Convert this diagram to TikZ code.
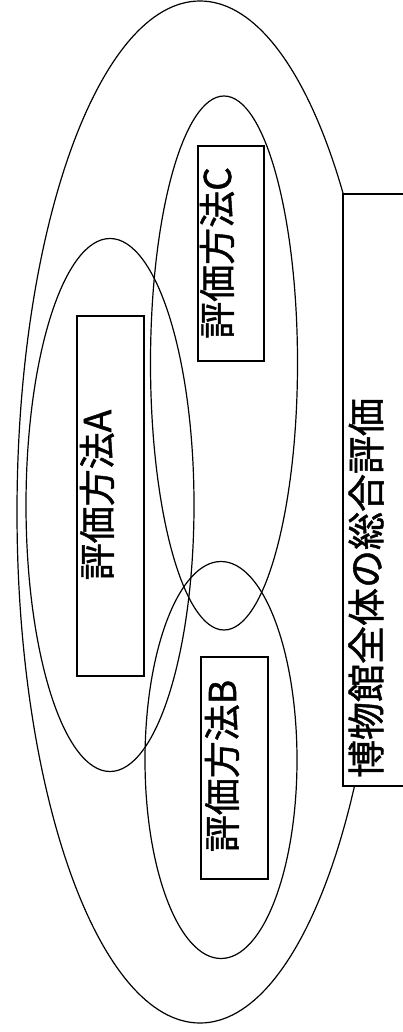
\documentclass[tikz,border=0pt]{standalone}
\usepackage{fontspec}
\newfontfamily\jp[FakeBold=1.2]{Noto Sans CJK JP}
\usetikzlibrary{shapes.geometric}
\begin{document}
\begin{tikzpicture}[x=1pt,y=-1pt,
  ell/.style={draw,ellipse,line width=1.2pt,inner sep=0pt},
  box/.style={draw,rectangle,line width=1.2pt,inner sep=0pt,fill=white},
  lbl/.style={rotate=90,inner sep=0pt,font=\jp\fontsize{37}{37}\selectfont}]
\useasboundingbox (0,0) rectangle (403,1032);
\clip (0,0) rectangle (403,1032);
\fill[white] (0,0) rectangle (403,1032);
\node[ell,minimum width=366pt,minimum height=1022pt] (all) at (200,512) {};
\node[ell,minimum width=168pt,minimum height=533pt] (ea) at (110,505) {};
\node[ell,minimum width=147pt,minimum height=534pt] (ec) at (224,363) {};
\node[ell,minimum width=152pt,minimum height=397pt] (eb) at (221,760) {};
\node[box,minimum width=67pt,minimum height=360pt] (ra) at (110.5,496) {};
\node[box,minimum width=66pt,minimum height=215pt] (rc) at (231,253.5) {};
\node[box,minimum width=67pt,minimum height=222pt] (rb) at (234.5,768) {};
\node[box,minimum width=80pt,minimum height=592pt] (rt) at (383,490) {};
\node[lbl] (ta) at (97,495) {評価方法A};
\node[lbl] (tc) at (217,253) {評価方法C};
\node[lbl] (tb) at (222,766) {評価方法B};
\node[lbl,font=\jp\fontsize{38}{38}\selectfont] (tt) at (366,588) {博物館全体の総合評価};
\end{tikzpicture}
\end{document}
